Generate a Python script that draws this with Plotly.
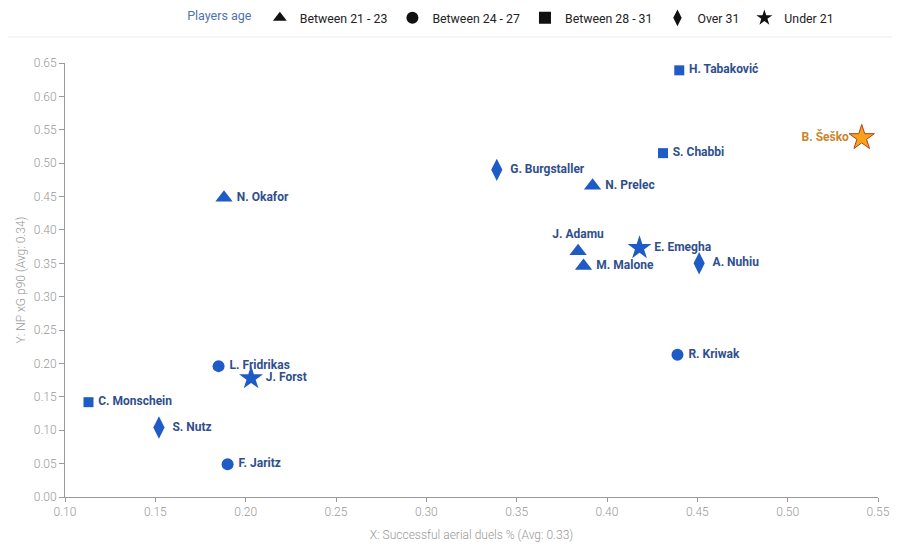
import plotly.graph_objects as go

players = ["H. Tabaković", "B. Šeško", "S. Chabbi", "G. Burgstaller", "N. Prelec",
           "N. Okafor", "J. Adamu", "E. Emegha", "M. Malone", "A. Nuhiu",
           "R. Kriwak", "L. Fridrikas", "J. Forst", "C. Monschein", "S. Nutz", "F. Jaritz"]
aerial_pct = [0.440, 0.541, 0.431, 0.339, 0.392, 0.188, 0.384, 0.418, 0.387, 0.451,
              0.439, 0.185, 0.203, 0.113, 0.152, 0.190]
np_xg_p90 = [0.639, 0.538, 0.515, 0.490, 0.466, 0.448, 0.368, 0.373, 0.346, 0.350,
             0.213, 0.196, 0.178, 0.142, 0.104, 0.049]
age_group = ["Between 28 - 31", "Under 21", "Between 28 - 31", "Over 31", "Between 21 - 23",
             "Between 21 - 23", "Between 21 - 23", "Under 21", "Between 21 - 23", "Over 31",
             "Between 24 - 27", "Between 24 - 27", "Under 21", "Between 28 - 31", "Over 31",
             "Between 24 - 27"]
legend_groups = ["Between 21 - 23", "Between 24 - 27", "Between 28 - 31", "Over 31", "Under 21"]
highlight = "B. Šeško"

symbols = {"Between 21 - 23": "triangle-up", "Between 24 - 27": "circle",
           "Between 28 - 31": "square", "Over 31": "diamond-tall", "Under 21": "star"}
sizes = {"Between 21 - 23": 15, "Between 24 - 27": 12, "Between 28 - 31": 10,
         "Over 31": 16, "Under 21": 18}
label_pos = {"J. Adamu": "top center", "B. Šeško": "middle left"}

BLUE = "#1f5bc6"
LABEL = "#2f4f8c"
ORANGE = "#f7a21b"

fig = go.Figure()

for i, name in enumerate(players):
    g = age_group[i]
    is_hl = name == highlight
    pos = label_pos.get(name, "middle right")
    txt = "\u2009" + name if pos == "middle right" else name
    fig.add_trace(go.Scatter(
        x=[aerial_pct[i]], y=[np_xg_p90[i]], mode="markers+text",
        text=[txt], textposition=pos,
        textfont=dict(family="Roboto", size=12, color="#c8862a" if is_hl else LABEL, weight="bold"),
        marker=dict(symbol=symbols[g], size=sizes[g] + (1 if is_hl else 0),
                    color=ORANGE if is_hl else BLUE,
                    line=dict(color="#b0421a" if is_hl else BLUE, width=1 if is_hl else 0)),
        showlegend=False, hoverinfo="text", hovertext=name + " (" + g + ")",
    ))

for g in legend_groups:
    fig.add_trace(go.Scatter(
        x=[None], y=[None], mode="markers", name=g,
        marker=dict(symbol=symbols[g], size=13 if g != "Over 31" else 14, color="#111111"),
    ))

fig.update_layout(
    width=900, height=553,
    margin=dict(l=57, r=30, t=55, b=64, autoexpand=False),
    paper_bgcolor="white", plot_bgcolor="white",
    font=dict(family="Roboto", color="#888888"),
    showlegend=True,
    legend=dict(orientation="h", x=0.55, xanchor="center", y=1.104, yanchor="middle",
                title=dict(text="Players age", font=dict(color="#4f73b0", size=12.5)),
                font=dict(size=12.3, color="#222222"), itemsizing="constant",
                itemwidth=30, tracegroupgap=0),
    xaxis=dict(range=[0.10, 0.55], dtick=0.05, tick0=0.10, tickformat=".2f",
               showgrid=False, zeroline=False, showline=True, linecolor="#999999",
               linewidth=1, ticks="outside", ticklen=4, tickcolor="#999999",
               tickfont=dict(size=12, color="#999999", weight=300),
               title=dict(text="X: Successful aerial duels % (Avg: 0.33)",
                          font=dict(size=12, color="#999999", weight=300), standoff=12)),
    yaxis=dict(range=[0.0, 0.65], dtick=0.05, tick0=0, tickformat=".2f",
               showgrid=False, zeroline=False, showline=True, linecolor="#999999",
               linewidth=1, ticks="outside", ticklen=5, tickcolor="#999999",
               tickfont=dict(size=12, color="#999999", weight=300),
               title=dict(text="Y: NP xG p90 (Avg: 0.34)",
                          font=dict(size=12, color="#999999", weight=300), standoff=5)),
    shapes=[dict(type="line", xref="paper", yref="paper", x0=-0.08, x1=1.04,
                 y0=1.06, y1=1.06, line=dict(color="#eeeeee", width=1))],
)

fig.write_html("out.html")
